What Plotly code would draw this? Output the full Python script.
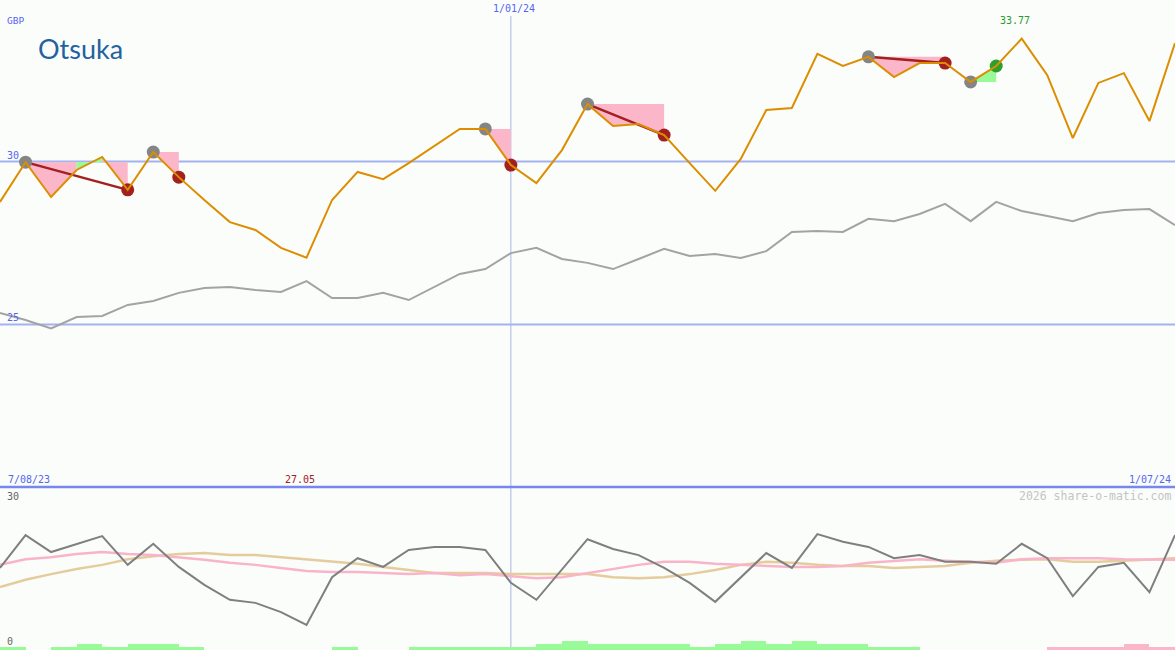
import plotly.graph_objects as go

# ---------------- data ----------------
weeks = list(range(47))
price = [28.76, 29.98, 28.91, 29.74, 30.14, 29.13, 30.29, 29.52, 28.82, 28.14,
         27.90, 27.35, 27.05, 28.82, 29.68, 29.46, 29.95, 30.48, 31.00, 31.00,
         29.89, 29.34, 30.35, 31.76, 31.09, 31.15, 30.81, 29.95, 29.10, 30.08,
         31.58, 31.64, 33.30, 32.93, 33.21, 32.59, 33.02, 33.02, 32.44, 32.93,
         33.77, 32.65, 30.72, 32.41, 32.71, 31.24, 33.63]
benchmark = [25.35, 25.14, 24.88, 25.23, 25.26, 25.60, 25.72, 25.97, 26.12, 26.15,
             26.06, 26.00, 26.33, 25.81, 25.81, 25.97, 25.75, 26.15, 26.55, 26.70,
             27.19, 27.35, 27.01, 26.89, 26.70, 27.01, 27.32, 27.10, 27.16, 27.04,
             27.25, 27.84, 27.87, 27.84, 28.24, 28.17, 28.39, 28.70, 28.17, 28.76,
             28.48, 28.33, 28.17, 28.42, 28.51, 28.54, 28.05]
osc_main = [15.4, 21.8, 18.5, 20.1, 21.6, 16.0, 20.1, 15.6, 12.1, 9.2,
            8.6, 6.8, 4.3, 13.6, 17.3, 15.6, 18.9, 19.5, 19.5, 18.9,
            12.5, 9.2, 15.0, 21.0, 19.1, 17.9, 15.4, 12.5, 8.8, 13.6,
            18.3, 15.4, 22.0, 20.5, 19.5, 17.3, 17.9, 16.6, 16.6, 16.2,
            20.1, 17.3, 9.9, 15.6, 16.4, 10.7, 21.8]
osc_fast = [16.0, 17.1, 17.5, 18.1, 18.5, 18.1, 17.9, 17.5, 17.0, 16.4,
            16.0, 15.4, 14.8, 14.6, 14.6, 14.4, 14.2, 14.4, 14.0, 14.2,
            13.8, 13.4, 13.6, 14.4, 15.2, 16.0, 16.6, 16.6, 16.2, 16.0,
            15.8, 15.6, 15.6, 15.8, 16.4, 16.8, 17.1, 16.8, 16.6, 16.4,
            17.1, 17.3, 17.3, 17.3, 17.1, 17.0, 17.0]
osc_slow = [11.7, 13.1, 14.2, 15.2, 16.0, 17.1, 17.7, 18.1, 18.3, 17.9,
            17.9, 17.5, 17.1, 16.6, 16.2, 15.6, 15.0, 14.4, 14.4, 14.4,
            14.2, 14.2, 14.2, 14.2, 13.6, 13.4, 13.6, 14.2, 15.0, 16.0,
            16.6, 16.4, 16.0, 15.8, 15.8, 15.4, 15.6, 15.8, 16.4, 16.8,
            17.0, 17.1, 16.6, 16.6, 16.8, 17.1, 17.3]
flow_level = [1, 0, 1, 2, 1, 2, 2, 1, 0, 0, 0, 0, 0, 1, 0, 0, 1, 1, 1, 1,
              1, 2, 3, 2, 2, 2, 2, 1, 2, 3, 2, 3, 2, 2, 1, 1, 0, 0, 0, 0,
              0, -1, -1, -1, -2, -1, 0]
entries = [1, 6, 19, 23, 34, 38]
exits = [5, 7, 20, 26, 37, 39]
exit_win = [False, False, False, False, False, True]
fill_segments = [(1, 3, 0, "loss"), (3, 4, 0, "gain"), (4, 5, 0, "loss"),
                 (6, 7, 1, "loss"), (19, 20, 2, "loss"), (23, 26, 3, "loss"),
                 (34, 37, 4, "loss"), (38, 39, 5, "gain")]
joined_trades = [0, 3, 4]
date_labels = ["7/08/23", "1/01/24", "1/07/24"]
date_mark_week = 20
price_ticks = [30, 25]
osc_ticks = [30, 0]

# ---------------- style ----------------
W, H = 1175, 650
BG = "#fbfdfb"
BLUE_TXT = "#5566f0"
MONO = "DejaVu Sans Mono"
split = (H - 487) / H

fig = go.Figure()

def px_x(p):
    return p / W

def px_y(p):
    return 1 - p / H

# trade fills
colors = {"loss": "#fbb6c9", "gain": "#98fb98"}
for a, b, t, kind in fill_segments:
    level = price[entries[t]]
    xs = list(range(a, b + 1))
    ys = [price[i] for i in xs]
    fig.add_trace(go.Scatter(
        x=xs + [b, a], y=ys + [level, level], fill="toself", mode="none",
        fillcolor=colors[kind], hoverinfo="skip", xaxis="x", yaxis="y"))

# connecting lines of multi-week trades
for t in joined_trades:
    fig.add_trace(go.Scatter(
        x=[entries[t], exits[t]], y=[price[entries[t]], price[exits[t]]],
        mode="lines", line=dict(color="#a3201f", width=2.5),
        hoverinfo="skip", xaxis="x", yaxis="y"))

# markers
fig.add_trace(go.Scatter(
    x=entries, y=[price[i] for i in entries], mode="markers",
    marker=dict(color="#858585", size=13, line=dict(width=0)),
    xaxis="x", yaxis="y"))
fig.add_trace(go.Scatter(
    x=exits, y=[price[i] for i in exits], mode="markers",
    marker=dict(color=["#2ca02c" if w else "#a3201f" for w in exit_win],
                size=13, line=dict(width=0)),
    xaxis="x", yaxis="y"))

# benchmark and price lines
fig.add_trace(go.Scatter(x=weeks, y=benchmark, mode="lines",
                         line=dict(color="#a3a3a3", width=2), xaxis="x", yaxis="y"))
fig.add_trace(go.Scatter(x=weeks, y=price, mode="lines",
                         line=dict(color="#dc8e00", width=2), xaxis="x", yaxis="y"))

# lower panel
bar_x = [i + 0.5 for i in weeks]
fig.add_trace(go.Bar(
    x=bar_x, y=[abs(v) for v in flow_level], width=1,
    marker=dict(color=["#98fb98" if v > 0 else "#fbb6c9" for v in flow_level],
                line=dict(width=0)),
    xaxis="x", yaxis="y3"))
fig.add_trace(go.Scatter(x=weeks, y=osc_slow, mode="lines",
                         line=dict(color="#e5cc9d", width=2.5),
                         xaxis="x", yaxis="y2"))
fig.add_trace(go.Scatter(x=weeks, y=osc_fast, mode="lines",
                         line=dict(color="#f9b4c9", width=2.5),
                         xaxis="x", yaxis="y2"))
fig.add_trace(go.Scatter(x=weeks, y=osc_main, mode="lines",
                         line=dict(color="#7f7f7f", width=2),
                         xaxis="x", yaxis="y2"))

shapes = []
for v in price_ticks:
    shapes.append(dict(type="line", xref="paper", yref="y", x0=0, x1=1, y0=v, y1=v,
                       line=dict(color="#a3b2f0", width=2), layer="below"))
shapes.append(dict(type="line", xref="paper", yref="paper", x0=0, x1=1,
                   y0=split, y1=split, line=dict(color="#7888ea", width=2.5)))
shapes.append(dict(type="line", xref="x", yref="paper", x0=date_mark_week, x1=date_mark_week,
                   y0=0, y1=px_y(16), line=dict(color="#aab4e6", width=1), layer="below"))

ann = []
def txt(text, x, y, color, size=10, anchor="left", family=MONO, **kw):
    ann.append(dict(text=text, x=x, y=y, xref="paper", yref="paper",
                    xanchor=anchor, yanchor="middle", showarrow=False,
                    font=dict(family=family, size=size, color=color), **kw))

txt("GBP", px_x(5), px_y(20), BLUE_TXT, size=9.5)
ann.append(dict(text="Otsuka", x=px_x(36), y=px_y(48), xref="paper", yref="paper",
                xanchor="left", yanchor="middle", showarrow=False,
                font=dict(family="Lato", size=27, color="#24629f", weight=400)))
for v in price_ticks:
    ann.append(dict(text=str(v), x=px_x(5), y=v, xref="paper", yref="y",
                    xanchor="left", yanchor="bottom", yshift=-1, showarrow=False,
                    font=dict(family=MONO, size=10, color=BLUE_TXT)))
txt(date_labels[1], px_x(514), px_y(9), BLUE_TXT, anchor="center")
txt(f"{max(price):.2f}", px_x(1015), px_y(21), "#2a9a2a", anchor="center")
txt(date_labels[0], px_x(6), px_y(479), BLUE_TXT)
txt(f"{min(price):.2f}", px_x(300), px_y(479), "#a3201f", anchor="center")
txt(date_labels[2], px_x(1173), px_y(479), BLUE_TXT, anchor="right")
txt(str(osc_ticks[0]), px_x(5), px_y(496), "#666666")
txt(str(osc_ticks[1]), px_x(5), px_y(641), "#666666")
txt("2026 share-o-matic.com", px_x(1173), px_y(496), "#c4c4c4", size=11.5,
    anchor="right")

fig.update_layout(
    width=W, height=H, margin=dict(l=0, r=0, t=0, b=0),
    paper_bgcolor=BG, plot_bgcolor=BG, showlegend=False, bargap=0,
    xaxis=dict(range=[0, 46], visible=False, domain=[0, 1]),
    yaxis=dict(range=[20.015, 34.954], domain=[split, 1], visible=False),
    yaxis2=dict(range=[-0.584, 31.169], domain=[0, split], visible=False),
    yaxis3=dict(range=[0, 54.3], overlaying="y2", visible=False),
    shapes=shapes, annotations=ann,
)

fig.write_html("out.html", config=dict(displayModeBar=False),
               post_script="document.body.style.margin='0';document.body.style.overflow='hidden';")
